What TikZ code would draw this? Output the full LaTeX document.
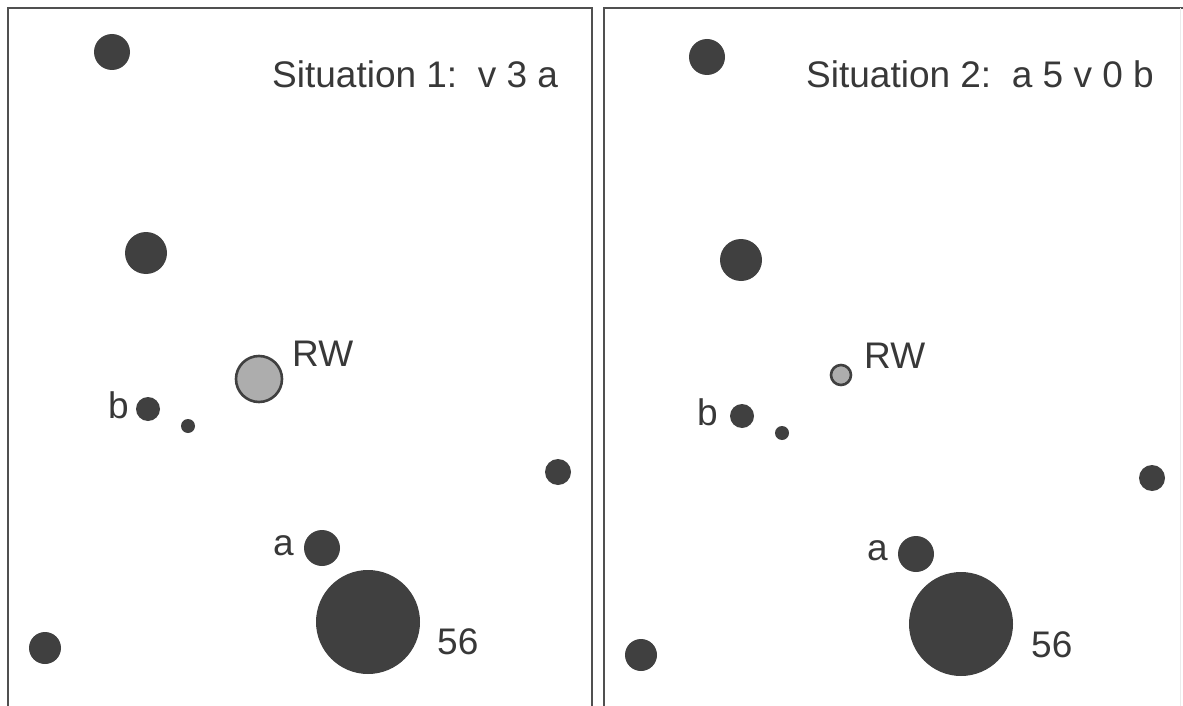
\documentclass[tikz,border=0pt]{standalone}
\usepackage{fontspec}
\setmainfont{Liberation Sans}
\begin{document}
\begin{tikzpicture}[x=1pt,y=-1pt,
  dot/.style={circle,fill=dotgray,draw=none,inner sep=0pt,minimum size=#1},
  rw/.style={circle,fill=rwgray,draw=dotgray,line width=2.6pt,inner sep=0pt,minimum size=#1},
  lbl/.style={anchor=base west,inner sep=0pt,text=txtgray,font=\fontsize{37}{40}\selectfont},
  frame/.style={draw=framegray,line width=2.2pt}]
\definecolor{dotgray}{HTML}{404040}
\definecolor{rwgray}{HTML}{ADADAD}
\definecolor{txtgray}{HTML}{383838}
\definecolor{framegray}{HTML}{505050}
\useasboundingbox (0,0) rectangle (1183,706);
% frames
\draw[frame] (8,706) -- (8,8) -- (592,8) -- (592,706);
\draw[frame] (604,706) -- (604,8) -- (1183,8);
\draw[draw=black!8,line width=1pt] (1180,8) -- (1180,706);
% left panel
\node[dot=36pt] (l1) at (112,52) {};
\node[dot=42pt] (l2) at (146,253) {};
\node[rw=46pt] (lrw) at (259,379) {};
\node[dot=24pt] (lb) at (148,409) {};
\node[dot=14pt] (ls) at (188,426) {};
\node[dot=26pt] (lr) at (558,472) {};
\node[dot=36pt] (la) at (322,548) {};
\node[dot=104pt] (l56) at (368,622) {};
\node[dot=32pt] (ll) at (45,648) {};
\node[lbl] (t1) at (272,88) {Situation 1:\ \ v 3 a};
\node[lbl] (lrwt) at (292,366) {RW};
\node[lbl] (lbt) at (108,418) {b};
\node[lbl] (lat) at (273,555) {a};
\node[lbl] (l56t) at (437,654) {56};
% right panel
\node[dot=36pt] (r1) at (707,57) {};
\node[dot=42pt] (r2) at (741,260) {};
\node[rw=20pt] (rrw) at (841,375) {};
\node[dot=24pt] (rb) at (742,416) {};
\node[dot=14pt] (rs) at (782,433) {};
\node[dot=26pt] (rr) at (1152,478) {};
\node[dot=36pt] (ra) at (916,554) {};
\node[dot=104pt] (r56) at (961,624) {};
\node[dot=32pt] (rl) at (641,655) {};
\node[lbl] (t2) at (806,88) {Situation 2:\ \ a 5 v 0 b};
\node[lbl] (rrwt) at (864,368) {RW};
\node[lbl] (rbt) at (697,425) {b};
\node[lbl] (rat) at (867,560) {a};
\node[lbl] (r56t) at (1031,657) {56};
\end{tikzpicture}
\end{document}
